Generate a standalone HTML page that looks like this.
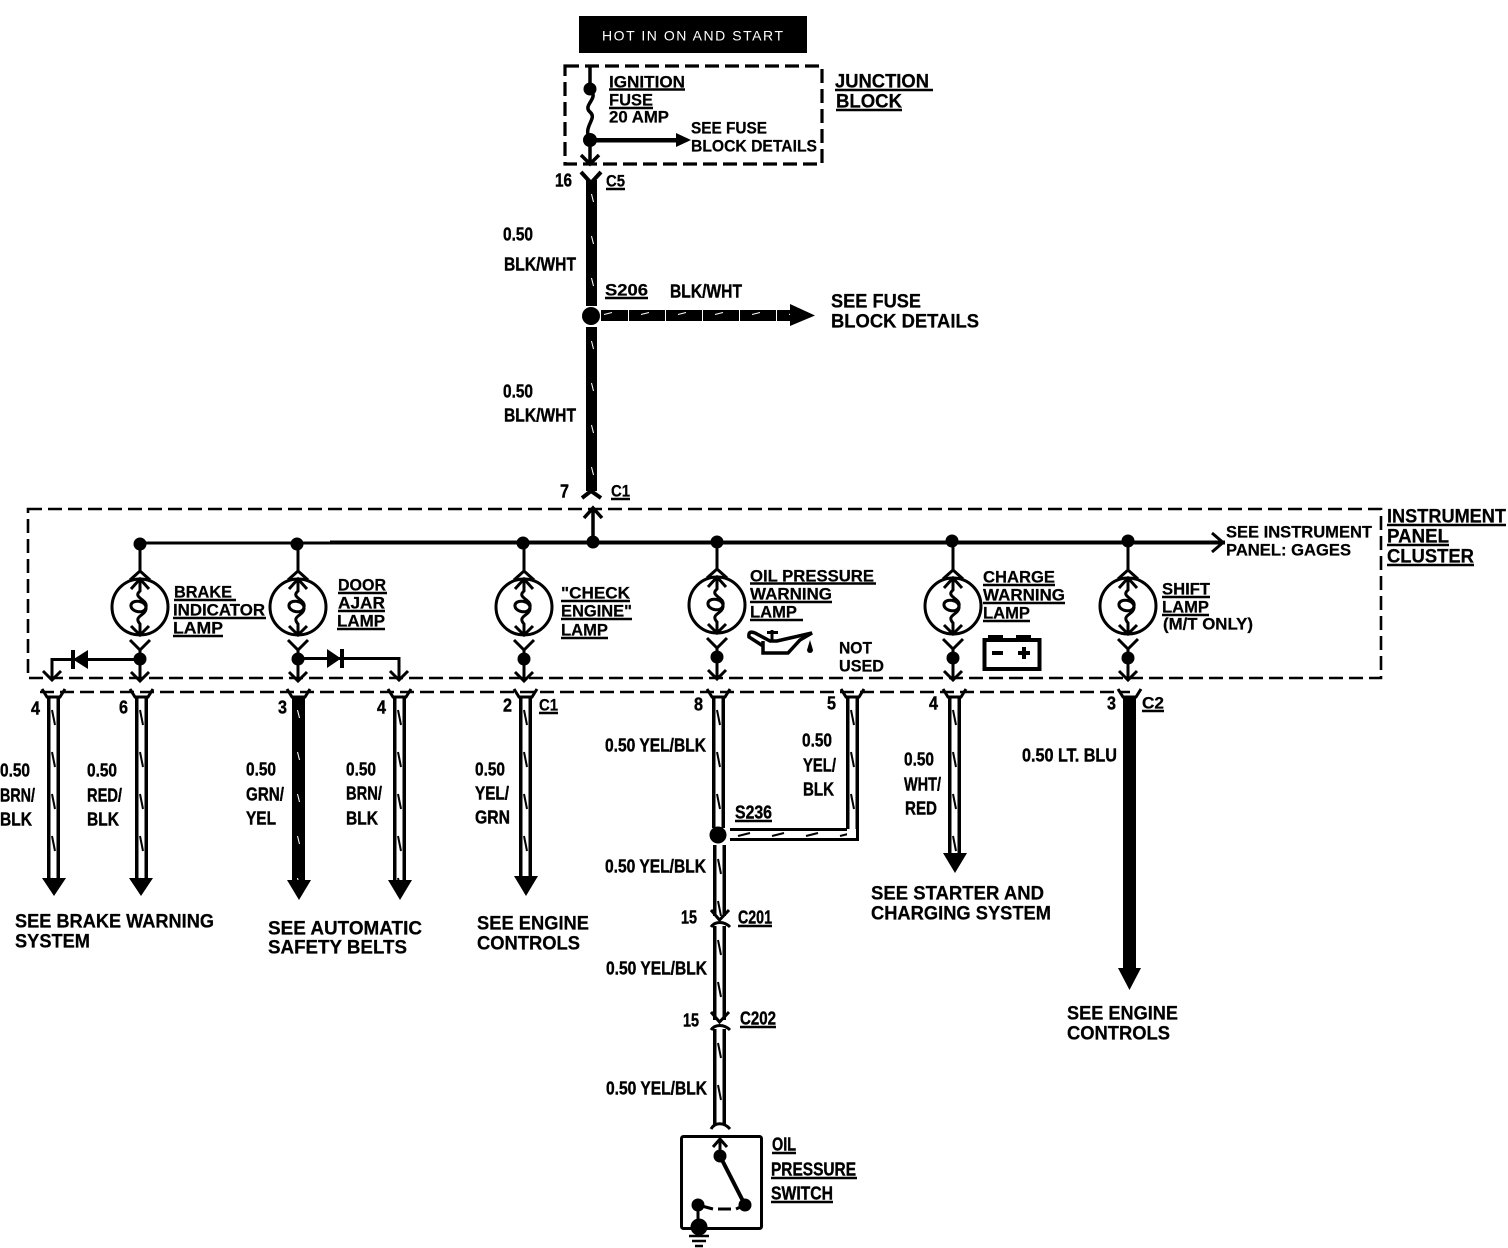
<!DOCTYPE html>
<html><head><meta charset="utf-8"><title>Wiring diagram</title>
<style>
html,body{margin:0;padding:0;background:#fff}
svg{display:block}
text{font-family:"Liberation Sans",sans-serif;font-weight:bold;font-size:19px;fill:#000;stroke:#000;stroke-width:.25;transform:translateY(.6px)}
.s{font-size:17px}
.n{font-size:18px;stroke-width:.4}
.f{fill:none;stroke:#000;stroke-width:3}
.u{stroke:#000;stroke-width:2.5}
.d{fill:none;stroke:#000;stroke-width:2.6;stroke-dasharray:14 6}
</style></head><body>
<svg xmlns="http://www.w3.org/2000/svg" width="1508" height="1248" viewBox="0 0 1508 1248">
<defs>
<pattern id="wp" patternUnits="userSpaceOnUse" width="13" height="42">
<rect width="3.500" height="42"/><rect x="9.500" width="3.500" height="42"/>
<path d="M5,14 L8,29" stroke="#000" stroke-width="2"/>
</pattern>
<pattern id="bp" patternUnits="userSpaceOnUse" width="13" height="42">
<rect width="13" height="42"/>
<path d="M5.500,14 L7.500,22" stroke="#fff" stroke-width="1"/>
</pattern>
<pattern id="hp" patternUnits="userSpaceOnUse" width="37" height="11">
<rect width="36" height="11"/>
<path d="M12,6.500 L20,4.500" stroke="#fff" stroke-width="1"/>
</pattern>
<pattern id="hw" patternUnits="userSpaceOnUse" width="34" height="13">
<rect width="34" height="3"/><rect y="10" width="34" height="3"/>
<path d="M8,8 L20,5" stroke="#000" stroke-width="2"/>
</pattern>
<g id="lamp">
<circle r="28" fill="#fff" stroke="#000" stroke-width="3"/>
<path class="f" d="M-10,-27 L0,-36 L10,-27 M0,-62 V-36 M-9,-18 L0,-28 L9,-18 M0,-28 V-16 C-8,-9 8,-8 6,0 C5,8 -10,5 -9,-2 C-8,-8 7,-7 6,2 C5,9 -7,9 0,17 V28 M-9,19 L0,28 L9,19 M-10,33 L0,43 L10,33 M0,43 V74 M-9,65 L0,74 L9,65"/>
<circle cy="52" r="6.500"/>
</g>
</defs>

<rect x="579" y="16" width="228" height="37"/>
<text x="602" y="40" textLength="181" style="fill:#fff;stroke:none;font-weight:normal;font-size:14px">HOT IN ON AND START</text>

<rect class="d" style="stroke-width:3.200" x="565" y="66" width="257" height="98"/>
<path class="f" style="stroke-width:3.500" d="M590,66 V90 C600,98 582,105 590,112 C598,119 582,126 590,140 V164 M581,155 L590,164 L599,155"/>
<circle cx="590" cy="89" r="6.500"/><circle cx="590" cy="140" r="7"/>
<rect x="590" y="138" width="90" height="4.500"/>
<path d="M676,133 L691,140 L676,147Z"/>
<rect width="11" height="126" fill="url(#bp)" transform="translate(586,180)"/>
<path class="f" style="stroke-width:4" d="M581,172 L591,183 L601,172"/>
<circle cx="591" cy="316" r="9"/>
<rect x="601" y="310" width="190" height="11" fill="url(#hp)"/>
<path d="M790,304 L815,315.500 L790,326Z"/>
<rect width="11" height="164" fill="url(#bp)" transform="translate(586,327)"/>
<path class="f" style="stroke-width:4" d="M582,498 L591,491 L601,498"/>

<rect class="d" x="28" y="509" width="1353" height="169"/>
<path class="d" d="M40,692 H1130"/>
<path class="f" style="stroke-width:3.500" d="M584,518 L593,508 L602,518 M593,508 V543"/>
<path d="M139,543 H330" stroke="#000" stroke-width="3"/>
<path d="M330,542.500 H1225" stroke="#000" stroke-width="4"/>
<path class="f" d="M1212,533 L1223,542.500 L1212,552"/>
<circle cx="140" cy="544" r="6.500"/><circle cx="297" cy="544" r="6.500"/><circle cx="523" cy="543" r="6.500"/><circle cx="593" cy="542" r="6.500"/><circle cx="717" cy="542" r="6.500"/><circle cx="952" cy="541" r="6.500"/><circle cx="1128" cy="541" r="6.500"/>
<use href="#lamp" x="140" y="607"/>
<use href="#lamp" x="298" y="607"/>
<use href="#lamp" x="524" y="607"/>
<use href="#lamp" x="717" y="605"/>
<use href="#lamp" x="953" y="606"/>
<use href="#lamp" x="1128" y="606"/>

<path class="f" d="M140,659.500 H52 V680 M43,671 L52,680 L61,671"/>
<path d="M88,650 V669 L73,659.500Z M71,650 H75 V669 H71Z"/>
<path class="f" d="M298,658.500 H399 V680 M390,671 L399,680 L408,671"/>
<path d="M327,649 V668 L341,658.500Z M340,649 H344 V668 H340Z"/>

<path d="M763,641 V653 H788 L800,640 L812,633 L790,638 L777,641 L770,641 L755,633 Q748,630 749,637 L763,646" fill="none" stroke="#000" stroke-width="3.500"/>
<path d="M767,632.500 H778 M772,630 V640" stroke="#000" stroke-width="3"/>
<path d="M810,640 L813,650 A3,3 0 0 1 807,650Z"/>

<rect x="984.500" y="640" width="55" height="29" fill="none" stroke="#000" stroke-width="4"/>
<rect x="988" y="635" width="15" height="5"/><rect x="1016" y="635" width="15" height="5"/>
<rect x="992" y="651" width="11" height="4"/>
<path d="M1018,651 H1030 V655 H1018Z M1022,647 H1026 V659 H1022Z"/>

<!-- lower wires -->
<rect width="13" height="182" fill="url(#wp)" transform="translate(47,696)"/>
<rect width="13" height="182" fill="url(#wp)" transform="translate(135,696)"/>
<rect width="13" height="184" fill="url(#bp)" transform="translate(292,696)"/>
<rect width="13" height="184" fill="url(#wp)" transform="translate(393,696)"/>
<rect width="13" height="180" fill="url(#wp)" transform="translate(519,696)"/>
<rect width="13" height="132" fill="url(#wp)" transform="translate(712,696)"/>
<rect width="13" height="133" fill="url(#wp)" transform="translate(846,696)"/>
<rect width="13" height="157" fill="url(#wp)" transform="translate(948,696)"/>
<rect x="1123" y="696" width="13" height="272"/>
<rect width="117" height="13" fill="url(#hw)" transform="translate(730,828)"/>
<path class="f" d="M857.500,820 V839.500 H846"/>
<circle cx="718" cy="835" r="8.500"/>
<rect width="13" height="71" fill="url(#wp)" transform="translate(713,845)"/>
<rect width="13" height="94" fill="url(#wp)" transform="translate(713,926)"/>
<rect width="13" height="95" fill="url(#wp)" transform="translate(713,1029)"/>
<path d="M42,878 H66 L54,896Z M129,878 H153 L141,896Z M287,880 H311 L299,900Z M388,880 H412 L400,900Z M514,876 H538 L526,896Z M943,853 H967 L955,873Z M1118,968 H1141 L1129.500,990Z"/>
<path class="f" d="M42,689 L47,697 H60 L65,689 M130,689 L135,697 H148 L153,689 M287,689 L292,697 H305 L310,689 M388,689 L393,697 H406 L411,689 M514,689 L519,697 H532 L537,689 M707,689 L712,697 H725 L730,689 M841,689 L846,697 H859 L864,689 M943,689 L948,697 H961 L966,689 M1118,689 L1123,697 H1136 L1141,689"/>
<path class="f" d="M711,910 L719.500,920 L729,910 M711,927 C715,921 724,921 730,927 M711,1012 L719.500,1022 L729,1012 M711,1030 C715,1024 724,1024 730,1030 M711,1129 C715,1122 724,1122 730,1129"/>

<rect x="681.500" y="1136.500" width="80" height="92" rx="2" fill="none" stroke="#000" stroke-width="3"/>
<path class="f" d="M713,1147 L720,1139 L727,1147 M720,1139 V1156"/>
<circle cx="720" cy="1156" r="6.500"/><circle cx="745" cy="1205" r="6.500"/><circle cx="698" cy="1205" r="6.500"/>
<path d="M720,1156 L745,1205" stroke="#000" stroke-width="4"/>
<path d="M698,1205 L713,1209 M718,1209 H731 M736,1209 L745,1205" stroke="#000" stroke-width="3"/>
<path d="M698,1205 V1228" stroke="#000" stroke-width="3"/>
<circle cx="699" cy="1227" r="8.500"/>
<path d="M689,1236 H709 M692,1241 H706 M695,1246 H703" stroke="#000" stroke-width="2.500"/>

<!-- labels -->
<text x="609" y="87" textLength="76" lengthAdjust="spacingAndGlyphs" class="s">IGNITION</text>
<text x="609" y="105" textLength="44" lengthAdjust="spacingAndGlyphs" class="s">FUSE</text>
<text x="609" y="122" textLength="60" lengthAdjust="spacingAndGlyphs" class="s">20 AMP</text>
<text x="691" y="133" textLength="76" lengthAdjust="spacingAndGlyphs" class="s">SEE FUSE</text>
<text x="691" y="151" textLength="126" lengthAdjust="spacingAndGlyphs" class="s">BLOCK DETAILS</text>
<text x="835" y="87" textLength="94" lengthAdjust="spacingAndGlyphs">JUNCTION</text>
<text x="836" y="107" textLength="66" lengthAdjust="spacingAndGlyphs">BLOCK</text>
<text x="555" y="186" textLength="17" lengthAdjust="spacingAndGlyphs" class="n">16</text>
<text x="606" y="186" textLength="19" lengthAdjust="spacingAndGlyphs" class="s">C5</text>
<text x="503" y="240" textLength="30" lengthAdjust="spacingAndGlyphs" class="n">0.50</text>
<text x="504" y="270" textLength="72" lengthAdjust="spacingAndGlyphs" class="n">BLK/WHT</text>
<text x="605" y="295" textLength="43" lengthAdjust="spacingAndGlyphs" class="s">S206</text>
<text x="670" y="297" textLength="72" lengthAdjust="spacingAndGlyphs" class="n">BLK/WHT</text>
<text x="831" y="307" textLength="90" lengthAdjust="spacingAndGlyphs">SEE FUSE</text>
<text x="831" y="327" textLength="148" lengthAdjust="spacingAndGlyphs">BLOCK DETAILS</text>
<text x="503" y="397" textLength="30" lengthAdjust="spacingAndGlyphs" class="n">0.50</text>
<text x="504" y="421" textLength="72" lengthAdjust="spacingAndGlyphs" class="n">BLK/WHT</text>
<text x="560" y="497" textLength="9" lengthAdjust="spacingAndGlyphs" class="n">7</text>
<text x="611" y="496" textLength="19" lengthAdjust="spacingAndGlyphs" class="s">C1</text>
<text x="1387" y="522" textLength="119" lengthAdjust="spacingAndGlyphs">INSTRUMENT</text>
<text x="1387" y="542" textLength="62" lengthAdjust="spacingAndGlyphs">PANEL</text>
<text x="1387" y="562" textLength="87" lengthAdjust="spacingAndGlyphs">CLUSTER</text>
<text x="1226" y="537" textLength="146" lengthAdjust="spacingAndGlyphs" class="s">SEE INSTRUMENT</text>
<text x="1226" y="555" textLength="125" lengthAdjust="spacingAndGlyphs" class="s">PANEL: GAGES</text>
<text x="174" y="597" textLength="58" lengthAdjust="spacingAndGlyphs" class="s">BRAKE</text>
<text x="173" y="615" textLength="92" lengthAdjust="spacingAndGlyphs" class="s">INDICATOR</text>
<text x="173" y="633" textLength="50" lengthAdjust="spacingAndGlyphs" class="s">LAMP</text>
<text x="338" y="590" textLength="48" lengthAdjust="spacingAndGlyphs" class="s">DOOR</text>
<text x="338" y="608" textLength="47" lengthAdjust="spacingAndGlyphs" class="s">AJAR</text>
<text x="337" y="626" textLength="48" lengthAdjust="spacingAndGlyphs" class="s">LAMP</text>
<text x="561" y="598" textLength="69" lengthAdjust="spacingAndGlyphs" class="s">"CHECK</text>
<text x="561" y="616" textLength="71" lengthAdjust="spacingAndGlyphs" class="s">ENGINE"</text>
<text x="561" y="635" textLength="47" lengthAdjust="spacingAndGlyphs" class="s">LAMP</text>
<text x="750" y="581" textLength="124" lengthAdjust="spacingAndGlyphs" class="s">OIL PRESSURE</text>
<text x="750" y="599" textLength="82" lengthAdjust="spacingAndGlyphs" class="s">WARNING</text>
<text x="750" y="617" textLength="47" lengthAdjust="spacingAndGlyphs" class="s">LAMP</text>
<text x="839" y="653" textLength="33" lengthAdjust="spacingAndGlyphs" class="s">NOT</text>
<text x="839" y="671" textLength="45" lengthAdjust="spacingAndGlyphs" class="s">USED</text>
<text x="983" y="582" textLength="72" lengthAdjust="spacingAndGlyphs" class="s">CHARGE</text>
<text x="983" y="600" textLength="82" lengthAdjust="spacingAndGlyphs" class="s">WARNING</text>
<text x="983" y="618" textLength="47" lengthAdjust="spacingAndGlyphs" class="s">LAMP</text>
<text x="1162" y="594" textLength="48" lengthAdjust="spacingAndGlyphs" class="s">SHIFT</text>
<text x="1162" y="612" textLength="47" lengthAdjust="spacingAndGlyphs" class="s">LAMP</text>
<text x="1163" y="629" textLength="90" lengthAdjust="spacingAndGlyphs" class="s">(M/T ONLY)</text>
<text x="31" y="714" textLength="9" lengthAdjust="spacingAndGlyphs" class="n">4</text>
<text x="119" y="713" textLength="9" lengthAdjust="spacingAndGlyphs" class="n">6</text>
<text x="278" y="713" textLength="9" lengthAdjust="spacingAndGlyphs" class="n">3</text>
<text x="377" y="713" textLength="9" lengthAdjust="spacingAndGlyphs" class="n">4</text>
<text x="503" y="711" textLength="9" lengthAdjust="spacingAndGlyphs" class="n">2</text>
<text x="539" y="710" textLength="19" lengthAdjust="spacingAndGlyphs" class="s">C1</text>
<text x="694" y="710" textLength="9" lengthAdjust="spacingAndGlyphs" class="n">8</text>
<text x="827" y="709" textLength="9" lengthAdjust="spacingAndGlyphs" class="n">5</text>
<text x="929" y="709" textLength="9" lengthAdjust="spacingAndGlyphs" class="n">4</text>
<text x="1107" y="709" textLength="9" lengthAdjust="spacingAndGlyphs" class="n">3</text>
<text x="1142" y="708" textLength="22" lengthAdjust="spacingAndGlyphs" class="s">C2</text>
<text x="0" y="776" textLength="30" lengthAdjust="spacingAndGlyphs" class="n">0.50</text>
<text x="0" y="801" textLength="35" lengthAdjust="spacingAndGlyphs" class="n">BRN/</text>
<text x="0" y="825" textLength="32" lengthAdjust="spacingAndGlyphs" class="n">BLK</text>
<text x="87" y="776" textLength="30" lengthAdjust="spacingAndGlyphs" class="n">0.50</text>
<text x="87" y="801" textLength="35" lengthAdjust="spacingAndGlyphs" class="n">RED/</text>
<text x="87" y="825" textLength="32" lengthAdjust="spacingAndGlyphs" class="n">BLK</text>
<text x="246" y="775" textLength="30" lengthAdjust="spacingAndGlyphs" class="n">0.50</text>
<text x="246" y="800" textLength="38" lengthAdjust="spacingAndGlyphs" class="n">GRN/</text>
<text x="246" y="824" textLength="30" lengthAdjust="spacingAndGlyphs" class="n">YEL</text>
<text x="346" y="775" textLength="30" lengthAdjust="spacingAndGlyphs" class="n">0.50</text>
<text x="346" y="799" textLength="36" lengthAdjust="spacingAndGlyphs" class="n">BRN/</text>
<text x="346" y="824" textLength="32" lengthAdjust="spacingAndGlyphs" class="n">BLK</text>
<text x="475" y="775" textLength="30" lengthAdjust="spacingAndGlyphs" class="n">0.50</text>
<text x="475" y="799" textLength="34" lengthAdjust="spacingAndGlyphs" class="n">YEL/</text>
<text x="475" y="823" textLength="35" lengthAdjust="spacingAndGlyphs" class="n">GRN</text>
<text x="605" y="751" textLength="101" lengthAdjust="spacingAndGlyphs" class="n">0.50 YEL/BLK</text>
<text x="802" y="746" textLength="30" lengthAdjust="spacingAndGlyphs" class="n">0.50</text>
<text x="803" y="771" textLength="33" lengthAdjust="spacingAndGlyphs" class="n">YEL/</text>
<text x="803" y="795" textLength="31" lengthAdjust="spacingAndGlyphs" class="n">BLK</text>
<text x="735" y="818" textLength="37" lengthAdjust="spacingAndGlyphs" class="n">S236</text>
<text x="904" y="765" textLength="30" lengthAdjust="spacingAndGlyphs" class="n">0.50</text>
<text x="904" y="790" textLength="37" lengthAdjust="spacingAndGlyphs" class="n">WHT/</text>
<text x="905" y="814" textLength="32" lengthAdjust="spacingAndGlyphs" class="n">RED</text>
<text x="1022" y="761" textLength="95" lengthAdjust="spacingAndGlyphs" class="n">0.50 LT. BLU</text>
<text x="605" y="872" textLength="101" lengthAdjust="spacingAndGlyphs" class="n">0.50 YEL/BLK</text>
<text x="681" y="923" textLength="16" lengthAdjust="spacingAndGlyphs" class="n">15</text>
<text x="738" y="923" textLength="34" lengthAdjust="spacingAndGlyphs" class="n">C201</text>
<text x="606" y="974" textLength="101" lengthAdjust="spacingAndGlyphs" class="n">0.50 YEL/BLK</text>
<text x="683" y="1026" textLength="16" lengthAdjust="spacingAndGlyphs" class="n">15</text>
<text x="740" y="1024" textLength="36" lengthAdjust="spacingAndGlyphs" class="n">C202</text>
<text x="606" y="1094" textLength="101" lengthAdjust="spacingAndGlyphs" class="n">0.50 YEL/BLK</text>
<text x="772" y="1150" textLength="24" lengthAdjust="spacingAndGlyphs" class="n">OIL</text>
<text x="771" y="1175" textLength="85" lengthAdjust="spacingAndGlyphs" class="n">PRESSURE</text>
<text x="771" y="1199" textLength="62" lengthAdjust="spacingAndGlyphs" class="n">SWITCH</text>
<text x="15" y="927" textLength="199" lengthAdjust="spacingAndGlyphs">SEE BRAKE WARNING</text>
<text x="15" y="947" textLength="75" lengthAdjust="spacingAndGlyphs">SYSTEM</text>
<text x="268" y="934" textLength="154" lengthAdjust="spacingAndGlyphs">SEE AUTOMATIC</text>
<text x="268" y="953" textLength="139" lengthAdjust="spacingAndGlyphs">SAFETY BELTS</text>
<text x="477" y="929" textLength="112" lengthAdjust="spacingAndGlyphs">SEE ENGINE</text>
<text x="477" y="949" textLength="103" lengthAdjust="spacingAndGlyphs">CONTROLS</text>
<text x="871" y="899" textLength="173" lengthAdjust="spacingAndGlyphs">SEE STARTER AND</text>
<text x="871" y="919" textLength="180" lengthAdjust="spacingAndGlyphs">CHARGING SYSTEM</text>
<text x="1067" y="1019" textLength="111" lengthAdjust="spacingAndGlyphs">SEE ENGINE</text>
<text x="1067" y="1039" textLength="103" lengthAdjust="spacingAndGlyphs">CONTROLS</text>

<!-- underlines -->
<path class="u" d="M609,89.500 H685 M609,108 H653 M835,90 H933 M836,110 H902 M606,189 H625 M605,298 H648 M611,499 H630 M1387,525 H1506 M1387,545 H1449 M1387,565 H1474 M174,600 H236 M173,618 H266 M173,636 H223 M338,593 H387 M338,611 H385 M337,629 H385 M561,601 H630 M561,619 H632 M561,638 H608 M750,583.500 H876 M750,602 H832 M750,620 H803 M983,585 H1055 M983,603 H1065 M983,621 H1030 M1162,597 H1210 M1162,615 H1209 M539,713 H558 M1142,711 H1164 M735,821 H772 M738,926 H772 M740,1027 H776 M772,1153 H796 M771,1178 H857 M771,1202 H833"/>
</svg>
</body></html>
